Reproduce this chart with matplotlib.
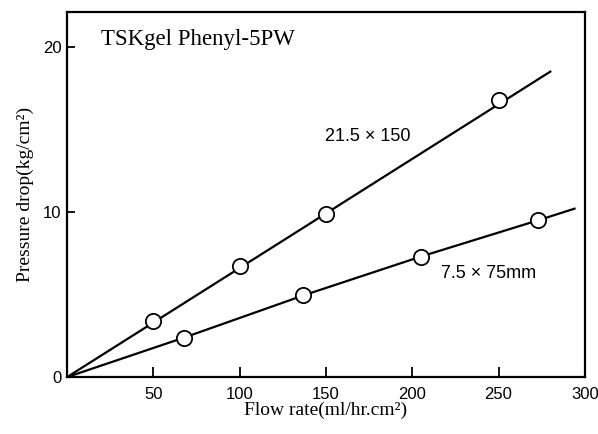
import matplotlib
matplotlib.use('Agg')
import matplotlib.pyplot as plt

# 21.5 x 150 column
flow_a = [50, 100, 150, 250]
drop_a = [3.4, 6.7, 9.9, 16.8]
line_a_x = [0, 280]
line_a_y = [0, 18.5]

# 7.5 x 75 mm column
flow_b = [68, 137, 205, 273]
drop_b = [2.4, 4.95, 7.3, 9.5]
line_b_x = [0, 68, 137, 205, 273, 294]
line_b_y = [0, 2.4, 4.95, 7.3, 9.5, 10.2]

xticks = [50, 100, 150, 200, 250, 300]
yticks = [0, 10, 20]

serif = ['Liberation Serif', 'DejaVu Serif']
sans = ['Liberation Sans', 'DejaVu Sans']

fig = plt.figure(figsize=(5.98, 4.34), dpi=100)
ax = fig.add_axes([0.112, 0.131, 0.866, 0.841])

ax.plot(line_a_x, line_a_y, color='black', lw=1.6, zorder=2)
ax.plot(line_b_x, line_b_y, color='black', lw=1.6, zorder=2)
ax.plot(flow_a, drop_a, 'o', ms=11, mfc='white', mec='black', mew=1.3, zorder=3)
ax.plot(flow_b, drop_b, 'o', ms=11, mfc='white', mec='black', mew=1.3, zorder=3)

ax.set_xlim(0, 300)
ax.set_ylim(0, 22.1)
ax.set_xticks(xticks)
ax.set_yticks(yticks)
ax.set_xticklabels([str(t) for t in xticks], family=sans, fontsize=12)
ax.set_yticklabels([str(t) for t in yticks], family=sans, fontsize=12)
ax.tick_params(axis='x', direction='in', length=7, width=1.3, pad=7)
ax.tick_params(axis='y', direction='in', length=6, width=1.3, pad=4)
for s in ax.spines.values():
    s.set_linewidth(1.6)

ax.text(0.065, 0.925, 'TSKgel Phenyl-5PW', transform=ax.transAxes,
        family=serif, fontsize=16.5, va='center', ha='left')
ax.text(174, 14.6, '21.5 × 150', family=sans, fontsize=13, ha='center', va='center')
ax.text(244, 6.3, '7.5 × 75mm', family=sans, fontsize=13, ha='center', va='center')

ax.set_xlabel('Flow rate(ml/hr.cm²)', family=serif, fontsize=14, labelpad=0)
ax.set_ylabel('Pressure drop(kg/cm²)', family=serif, fontsize=14, labelpad=6)

fig.savefig('out.png', dpi=100)
